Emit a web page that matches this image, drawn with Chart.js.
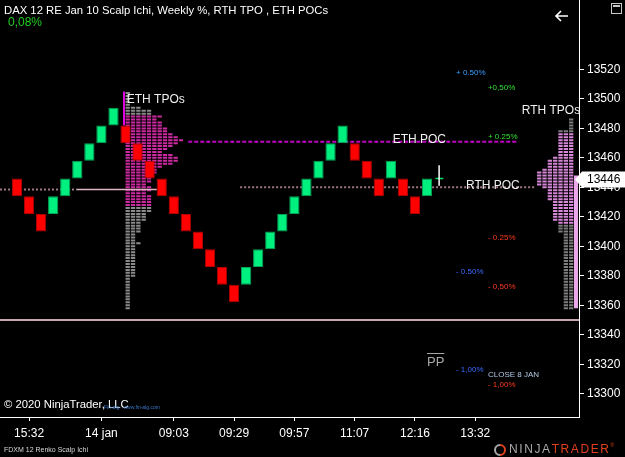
<!DOCTYPE html>
<html><head><meta charset="utf-8">
<script src="https://cdn.jsdelivr.net/npm/chart.js@4.4.0/dist/chart.umd.min.js"></script>
<style>html,body{margin:0;padding:0;background:#000;overflow:hidden}canvas{display:block}</style>
</head><body>
<canvas id="c" width="625" height="457"></canvas>
<script>
// ================= DATA =================
// Renko bricks (12 pt), one per slot 1..35
const brickOpen  = [13446,13434,13422,13422,13434,13446,13458,13470,13482,13482,13470,13458,13446,13434,13422,13410,13398,13386,13374,13374,13386,13398,13410,13422,13434,13446,13458,13470,13470,13458,13446,13446,13446,13434,13434];
const brickClose = [13434,13422,13410,13434,13446,13458,13470,13482,13494,13470,13458,13446,13434,13422,13410,13398,13386,13374,13362,13386,13398,13410,13422,13434,13446,13458,13470,13482,13458,13446,13434,13458,13434,13422,13446];

// Current (forming) bar
const liveHigh = 13455, liveLow = 13441, lastPrice = 13446;

// X axis ticks: bar slot and label
const xTickBars   = [2, 8, 14, 19, 24, 29, 34, 39];
const xTickLabels = ['15:32','14 jan','09:03','09:29','09:57','11:07','12:16','13:32'];

// Y axis tick labels
const yTickValues = [13300,13320,13340,13360,13380,13400,13420,13440,13460,13480,13500,13520];

// TPO profiles: number of TPO letters per 2-pt price row, listed from the top row down
const tpoStep = 2;
const ethTpoTop = 13504;
const ethTpoCounts = [1,1,1,1,1,3,5,5,
  7,6,7,7,8,8,9,10,11,10,9,8,7,9,10,10,9,7,6,6,5,5,5,4,5,5,4,5,5,5,5,
  5,5,4,4,4,3,3,3,3,2,2,2,3,
  2,2,2,2,2,2,2,2,2,2,2,
  1,1,1,1,1,1,1,1,1,1,1];
const ethValueArea = [13428, 13488];

const rthTpoTop = 13486;
const rthTpoCounts = [1,1,1,1,3,
  3,3,3,3,3,3,3,3,4,5,5,5,6,7,7,7,7,7,6,5,5,5,5,4,4,4,4,4,4,4,3,
  3,3,3,
  2,2,2,2,2,2,2,2,2,2,2,2,2,2,2,2,2,2,2,2,2,2,2,2,2,2];
const rthValueArea = [13416, 13476];

// Reference levels
const ethPoc = 13471, rthPoc = 13440, prevPoc = 13438.5, closeLine = 13350;
const rthRange = [13358, 13448];
const ethOpenRange = [13482, 13505];

// Weekly % labels and their price levels
const pctTexts  = ['+ 0.50%','+0,50%','+ 0.25%','- 0.25%','- 0.50%','- 0,50%','- 1,00%','CLOSE 8 JAN','- 1,00%'];
const pctPrices = [13517.5, 13507.3, 13474.1, 13405.5, 13382.5, 13372.3, 13316, 13312.6, 13305.8];

// ================= LAYOUT / STYLE =================
const X_MIN = -0.41, X_MAX = 47.6;
const Y_MIN = 13284.2, Y_MAX = 13567.1;
const BLOCK_W = 0.442;      // one TPO letter, in bar units
const ETH_ANCHOR = 10;      // ETH profile grows right from here
const RTH_ANCHOR = 47.13;   // RTH profile grows left from here
const FONT = '"Liberation Sans", Arial, sans-serif';

const pctStyle = [
  {x:37.4, c:'#3aa0ff'}, {x:40.05, c:'#33e033'}, {x:40.05, c:'#33e033'}, {x:40.05, c:'#ff3c1e'},
  {x:37.4, c:'#3a6cff'}, {x:40.05, c:'#ff3c1e'}, {x:37.4, c:'#3a6cff'}, {x:40.05, c:'#b4c8e6'}, {x:40.05, c:'#ff3c1e'}
];

function profileRows(top, counts, anchor, dir, va, inside) {
  const pts = [];
  counts.forEach((c, i) => {
    const p = top - i * tpoStep;
    const inVA = p >= va[0] && p <= va[1];
    if (inVA !== inside) return;
    const end = anchor + dir * c * BLOCK_W;
    pts.push({x: anchor, y: p}, {x: end, y: p}, {x: end, y: null});
  });
  return pts;
}
function seg(x0, x1, y0, y1) { return [{x:x0, y:y0}, {x:x1, y:y1}]; }

const bricks = brickOpen.map((o, i) => ({x: i + 1, y: [o, brickClose[i]]}));
const up = brickOpen.map((o, i) => brickClose[i] > o);

function lineDs(data, color, width, dash, order) {
  return {type:'line', data, borderColor:color, borderWidth:width, borderDash:dash || [],
    pointRadius:0, pointHoverRadius:0, spanGaps:false, tension:0, order, fill:false};
}

Chart.defaults.font.family = FONT;
Chart.defaults.font.size = 12;
Chart.defaults.color = '#ffffff';

const bgPlugin = {
  id:'bg',
  beforeDraw(chart) {
    const ctx = chart.ctx; ctx.save(); ctx.fillStyle = '#000'; ctx.fillRect(0,0,chart.width,chart.height); ctx.restore();
  },
  afterDatasetsDraw(chart) {
    const ctx = chart.ctx, xs = chart.scales.x, ys = chart.scales.y;
    ctx.save();
    ctx.textBaseline = 'middle'; ctx.textAlign = 'left';
    const big = [['ETH TPOs', 10.1, 13499.2], ['RTH TPOs', 42.85, 13492.2], ['ETH POC', 32.15, 13472], ['RTH POC', 38.23, 13441.2]];
    ctx.font = '12px ' + FONT; ctx.fillStyle = '#f0f0f0';
    big.forEach(([t, x, y]) => ctx.fillText(t, xs.getPixelForValue(x), ys.getPixelForValue(y)));
    ctx.font = '8px ' + FONT;
    pctTexts.forEach((t, i) => { ctx.fillStyle = pctStyle[i].c; ctx.fillText(t, xs.getPixelForValue(pctStyle[i].x), ys.getPixelForValue(pctPrices[i])); });
    // PP pivot label
    const px = xs.getPixelForValue(35.0), py = ys.getPixelForValue(13321.5);
    ctx.font = '13px ' + FONT; ctx.fillStyle = '#a8a8a8';
    ctx.fillText('PP', px, py);
    const w = ctx.measureText('PP').width;
    ctx.fillRect(px, py - 9, w, 1);
    ctx.restore();
  },
  afterDraw(chart) {
    const ctx = chart.ctx, ys = chart.scales.y;
    ctx.save();
    ctx.textBaseline = 'middle'; ctx.textAlign = 'left';
    ctx.font = '11.3px ' + FONT; ctx.fillStyle = '#ffffff';
    ctx.fillText('DAX 12 RE Jan 10 Scalp Ichi, Weekly %, RTH TPO , ETH POCs', 4, 11);
    ctx.font = '12px ' + FONT; ctx.fillStyle = '#22cc22';
    ctx.fillText('0,08%', 8, 23);
    ctx.font = '11.3px ' + FONT; ctx.fillStyle = '#ffffff';
    ctx.fillText('\u00A9 2020 NinjaTrader, LLC', 4, 405);
    ctx.font = '5px ' + FONT; ctx.fillStyle = '#3a78c8';
    ctx.fillText('Fin-alg   www.fin-alg.com', 104, 408);
    ctx.font = '7px ' + FONT; ctx.fillStyle = '#d8d8d8';
    ctx.fillText('FDXM 12 Renko Scalp Ichi', 4, 450);
    // NinjaTrader logo
    ctx.font = '12px ' + FONT;
    if ('letterSpacing' in ctx) ctx.letterSpacing = '1.6px';
    ctx.fillStyle = '#a8a8a8'; ctx.fillText('NINJA', 509, 450);
    const nw = ctx.measureText('NINJA').width;
    ctx.fillStyle = '#e0401c'; ctx.fillText('TRADER', 509 + nw, 450);
    const tw = ctx.measureText('TRADER').width;
    if ('letterSpacing' in ctx) ctx.letterSpacing = '0px';
    ctx.font = '5px ' + FONT; ctx.fillText('\u00AE', 509 + nw + tw, 446);
    ctx.lineWidth = 2;
    ctx.strokeStyle = '#a8a8a8'; ctx.beginPath(); ctx.arc(500, 450, 5, Math.PI*0.5, Math.PI*1.5); ctx.stroke();
    ctx.strokeStyle = '#e0401c'; ctx.beginPath(); ctx.arc(500, 450, 5, -Math.PI*0.5, Math.PI*0.5); ctx.stroke();
    // back arrow
    ctx.strokeStyle = '#ffffff'; ctx.lineWidth = 1.6;
    ctx.beginPath(); ctx.moveTo(556, 16); ctx.lineTo(568, 16); ctx.moveTo(561, 11); ctx.lineTo(556, 16); ctx.lineTo(561, 21); ctx.stroke();
    // window icon
    ctx.lineWidth = 1; ctx.strokeStyle = '#c8c8c8';
    ctx.strokeRect(611.5, 3.5, 10, 10);
    ctx.fillStyle = '#c8c8c8'; ctx.fillRect(613, 5, 7, 2);
    // last price marker
    const y = Math.round(ys.getPixelForValue(lastPrice)) + 0.5;
    ctx.fillStyle = '#ffffff';
    ctx.beginPath(); ctx.moveTo(575, y); ctx.lineTo(582, y - 8); ctx.lineTo(625, y - 8); ctx.lineTo(625, y + 8); ctx.lineTo(582, y + 8); ctx.closePath(); ctx.fill();
    ctx.font = '12px ' + FONT; ctx.fillStyle = '#000000';
    ctx.fillText(String(lastPrice), 587, y);
    ctx.restore();
  }
};

new Chart(document.getElementById('c'), {
  type: 'bar',
  data: {
    datasets: [
      {type:'bar', data: bricks, order:0,
        backgroundColor: up.map(u => u ? '#00f080' : '#ff0000'),
        borderColor: up.map(u => u ? '#00a656' : '#b00000'),
        borderWidth: 1, borderSkipped: false, barPercentage: 0.85, categoryPercentage: 1.0},
      // live bar
      lineDs(seg(36, 36, liveLow, liveHigh), '#ffffff', 1.5, [], 1),
      lineDs(seg(35.7, 36.35, lastPrice, lastPrice), '#00e070', 1.5, [], 1),
      // reference lines
      lineDs(seg(15.2, 42.46, ethPoc, ethPoc), '#c000c0', 2, [4, 2], 2),
      lineDs(seg(19.5, 43.95, rthPoc, rthPoc), '#9c7880', 2, [2, 2], 2),
      lineDs(seg(X_MIN, 5.97, prevPoc, prevPoc), '#9c7880', 2, [2, 2], 2),
      lineDs(seg(5.97, 12.6, prevPoc, prevPoc), '#e0b4c4', 1.5, [], 2),
      lineDs(seg(X_MIN, X_MAX, closeLine, closeLine), '#c8a4b0', 2, [], 2),
      lineDs(seg(9.87, 9.87, ethOpenRange[0], ethOpenRange[1]), '#e000e0', 2, [], 2),
      lineDs(seg(47.35, 47.35, rthRange[0], rthRange[1]), '#eaa8ea', 4, [], 2),
      // TPO profiles
      lineDs(profileRows(ethTpoTop, ethTpoCounts, ETH_ANCHOR, 1, ethValueArea, true), '#cc2aa0', 2, [4.3, 1.03], 5),
      lineDs(profileRows(ethTpoTop, ethTpoCounts, ETH_ANCHOR, 1, ethValueArea, false), '#8a8a8a', 2, [4.3, 1.03], 5),
      lineDs(profileRows(rthTpoTop, rthTpoCounts, RTH_ANCHOR, -1, rthValueArea, true), '#d587d5', 2, [4.3, 1.03], 5),
      lineDs(profileRows(rthTpoTop, rthTpoCounts, RTH_ANCHOR, -1, rthValueArea, false), '#7c7c7c', 2, [4.3, 1.03], 5)
    ]
  },
  options: {
    responsive: false, animation: false, devicePixelRatio: 1,
    layout: {padding: 0},
    plugins: {legend:{display:false}, tooltip:{enabled:false}, title:{display:false}},
    scales: {
      x: {type:'linear', min:X_MIN, max:X_MAX, offset:false,
        grid:{display:true, drawOnChartArea:false, drawTicks:true, tickLength:4, color:'#ffffff', offset:false},
        border:{display:true, color:'#ffffff', width:1},
        ticks:{color:'#ffffff', font:{size:12}, padding:5, autoSkip:false, maxRotation:0,
          callback:(v, i) => xTickLabels[i]},
        afterBuildTicks: s => { s.ticks = xTickBars.map(v => ({value:v})); },
        afterFit: s => { s.height = 40; s.paddingLeft = 0; s.paddingRight = 0; s.paddingTop = 0; s.paddingBottom = 0; }
      },
      y: {type:'linear', position:'right', min:Y_MIN, max:Y_MAX,
        grid:{display:true, drawOnChartArea:false, drawTicks:true, tickLength:5, color:'#ffffff'},
        border:{display:true, color:'#ffffff', width:1},
        ticks:{color:'#ffffff', font:{size:12}, padding:3, callback: v => String(v)},
        afterBuildTicks: s => { s.ticks = yTickValues.map(v => ({value:v})); },
        afterFit: s => { s.width = 46; s.paddingTop = 0; s.paddingBottom = 0; s.paddingLeft = 0; s.paddingRight = 0; }
      }
    }
  },
  plugins: [bgPlugin]
});
</script>
</body></html>
